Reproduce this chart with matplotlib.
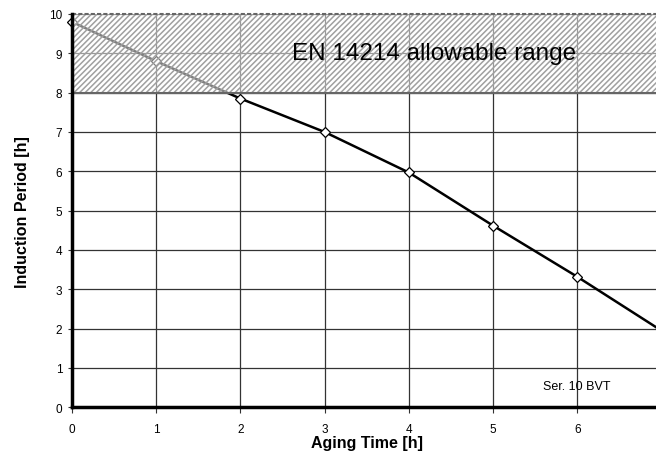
import numpy as np
import matplotlib
matplotlib.use('Agg')
from matplotlib import pyplot as plt

aging_time = [0, 1, 2, 3, 4, 5, 6, 7]
induction_period = [9.8, 8.8, 7.85, 7.0, 5.97, 4.62, 3.32, 1.95]
limit_low = 8
limit_high = 10
x_ticks = [0, 1, 2, 3, 4, 5, 6]
y_ticks = [0, 1, 2, 3, 4, 5, 6, 7, 8, 9, 10]


def main():
    plt.rcParams['font.family'] = ['Liberation Sans', 'DejaVu Sans']
    plt.rcParams['hatch.color'] = '#a0a0a0'
    plt.rcParams['hatch.linewidth'] = 1.1

    fig = plt.figure(figsize=(6.56, 4.56), dpi=100)
    # right edge runs past the figure, like the original crop
    ax = fig.add_axes([72 / 656, (456 - 408.3) / 456, (661.4 - 72) / 656, (408.3 - 15) / 456])

    ax.set_xlim(0, 7)
    ax.set_ylim(0, 10)
    ax.set_xticks(x_ticks)
    ax.set_yticks(y_ticks)
    ax.tick_params(axis='x', labelsize=8.5, length=4, width=0.8, color='#333333', pad=7)
    ax.tick_params(axis='y', labelsize=8.5, length=3, width=0.8, color='#333333', pad=4)
    ax.grid(True, color='#333333', linewidth=0.9)
    ax.set_axisbelow(True)

    for s in ['left', 'bottom']:
        ax.spines[s].set_linewidth(2.5)
        ax.spines[s].set_zorder(5)
    ax.spines['right'].set_visible(False)
    ax.spines['top'].set_visible(False)

    ax.plot(aging_time, induction_period, color='black', linewidth=1.8,
            marker='D', markersize=5, markerfacecolor='white',
            markeredgecolor='black', markeredgewidth=0.9, zorder=3, clip_on=False)

    # allowable range band drawn over the line
    ax.fill_between([0, 7], limit_low, limit_high, facecolor='white', alpha=0.5,
                    edgecolor='none', zorder=4)
    ax.fill_between([0, 7], limit_low, limit_high, facecolor='none', hatch='//////',
                    edgecolor='#a0a0a0', linewidth=0, zorder=4)
    ax.plot([0, 7], [limit_high, limit_high], color='#666666', linestyle=(0, (2, 1)),
            linewidth=1.5, zorder=4, clip_on=False)
    ax.plot([0, 7], [limit_low, limit_low], color='#666666', linewidth=1.5, zorder=4)

    ax.text(4.3, 9.0, 'EN 14214 allowable range', fontsize=17.5, ha='center', va='center', zorder=6)
    ax.text(6, 0.55, 'Ser. 10 BVT', fontsize=9, ha='center', va='center', zorder=6)

    ax.set_xlabel('Aging Time [h]', fontsize=11.5, fontweight='bold', labelpad=0)
    ax.set_ylabel('Induction Period [h]', fontsize=11.5, fontweight='bold', labelpad=14)

    fig.savefig('out.png', dpi=100)


if __name__ == "__main__":
    main()
